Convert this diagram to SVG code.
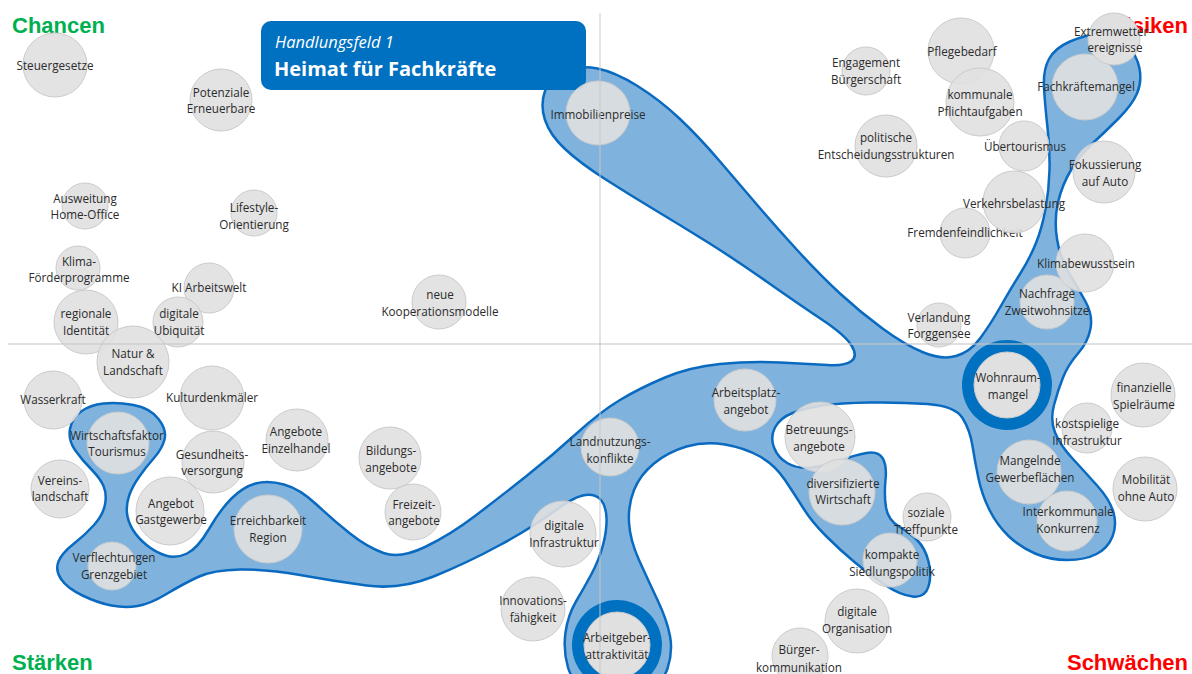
<svg xmlns="http://www.w3.org/2000/svg" width="1192" height="674" viewBox="0 0 1192 674">
<style>
.c{fill:#e0e0e0;fill-opacity:0.9;stroke:#cbcbcb;stroke-width:1}
.solid{fill-opacity:1}
.t{font-family:"Open Sans","Liberation Sans",sans-serif;font-size:11.7px;fill:#2b2b2b;text-anchor:middle}
.ring{fill:#0070c0}
.blob{fill:#7fb3dd;stroke:#0a6ac0;stroke-width:2.5;stroke-linejoin:round}
.axis{stroke:#c8c8c8;stroke-width:1.3;opacity:0.75}
.corner{font-family:"Liberation Sans",Arial,sans-serif;font-size:22px;font-weight:bold}
.g{fill:#00b050}
.r{fill:#ff0000}
</style>
<rect width="1192" height="674" fill="#ffffff"/>
<g id="labels">
<text class="corner g" x="12" y="33">Chancen</text>
<text class="corner r" x="1188" y="33" text-anchor="end">Risiken</text>
<text class="corner g" x="12" y="670">Stärken</text>
<text class="corner r" x="1188" y="670" text-anchor="end">Schwächen</text>
</g>
<g id="cluster">
<path class="blob" d="M103.5,403.5 Q117,402 133.5,405 Q150,408 158.5,419 Q167,430 164.5,439.5 Q162,449 154,458 Q146,467 139,477 Q132,487 129,496 Q126,505 127,513.5 Q128,522 133,530 Q138,538 146.5,545 Q155,552 165.5,555.5 Q176,559 187,553.5 Q198,548 209,529 Q220,510 231.5,498.5 Q243,487 255.5,483.5 Q268,480 284,484.5 Q300,489 316.5,504.5 Q333,520 350,533.5 Q367,547 383.5,553 Q400,559 425,547 Q450,535 475,516 Q500,497 526.5,476 Q553,455 576.5,433.5 Q600,412 620,400 Q640,388 665,377.5 Q690,367 720,364 Q750,361 780,362.5 Q810,364 827.5,365 Q845,366 851.5,361 Q858,356 851.5,345.5 Q845,335 822.5,320 Q800,305 766.5,281.5 Q733,258 706.5,241.5 Q680,225 655,210 Q630,195 605,179 Q580,163 565,149 Q550,135 545,120 Q540,105 545,91 Q550,77 565,71 Q580,65 597.5,68.5 Q615,72 637.5,86 Q660,100 680,119 Q700,138 720,161.5 Q740,185 758.5,206.5 Q777,228 798.5,251.5 Q820,275 840,293.5 Q860,312 882.5,328.5 Q905,345 923.5,352.5 Q942,360 956,356 Q970,352 980,338.5 Q990,325 1000,307.5 Q1010,290 1020,274 Q1030,258 1036,243 Q1042,228 1045.5,209 Q1049,190 1049.5,170 Q1050,150 1047.5,127.5 Q1045,105 1044,87.5 Q1043,70 1049,59 Q1055,48 1070,41.5 Q1085,35 1100,33.5 Q1115,32 1126,43.5 Q1137,55 1139.5,68.5 Q1142,82 1137,93.5 Q1132,105 1118.5,118.5 Q1105,132 1092.5,143.5 Q1080,155 1071,170 Q1062,185 1058,202.5 Q1054,220 1057,239 Q1060,258 1069,273 Q1078,288 1085.5,301.5 Q1093,315 1090.5,328.5 Q1088,342 1078,353.5 Q1068,365 1063,377.5 Q1058,390 1054,405 Q1050,420 1055,432.5 Q1060,445 1072.5,458.5 Q1085,472 1097.5,486 Q1110,500 1113.5,512.5 Q1117,525 1112.5,536.5 Q1108,548 1096.5,554 Q1085,560 1067.5,560 Q1050,560 1035,553.5 Q1020,547 1008.5,536 Q997,525 989.5,510 Q982,495 978.5,478.5 Q975,462 972.5,446 Q970,430 962.5,418 Q955,406 927.5,404 Q900,402 870,402.5 Q840,403 822.5,405.5 Q805,408 792.5,413 Q780,418 775,427.5 Q770,437 774,447.5 Q778,458 788,463.5 Q798,469 811.5,467.5 Q825,466 840,460.5 Q855,455 866.5,453 Q878,451 882.5,458 Q887,465 885.5,480 Q884,495 886,507.5 Q888,520 899,526.5 Q910,533 917.5,540.5 Q925,548 928.5,561.5 Q932,575 928.5,586.5 Q925,598 912.5,596.5 Q900,595 885,585 Q870,575 855,562.5 Q840,550 826,536 Q812,522 803.5,508.5 Q795,495 785,480 Q775,465 760,456.5 Q745,448 725,444.5 Q705,441 686.5,446.5 Q668,452 654,463.5 Q640,475 634,490 Q628,505 629,522.5 Q630,540 639,560 Q648,580 657.5,600 Q667,620 670,636 Q673,652 667.5,668.5 Q662,685 639.5,692.5 Q617,700 595,692.5 Q573,685 568,667.5 Q563,650 565.5,632.5 Q568,615 576,601.5 Q584,588 591.5,574 Q599,560 603,545 Q607,530 606.5,518 Q606,506 601,500 Q596,494 585.5,495 Q575,496 554,511.5 Q533,527 500,545 Q467,563 433.5,576.5 Q400,590 366.5,585.5 Q333,581 300,575 Q267,569 240,569.5 Q213,570 198,577 Q183,584 166.5,594 Q150,604 137.5,606 Q125,608 111.5,605.5 Q98,603 82.5,595.5 Q67,588 61,579 Q55,570 58.5,561.5 Q62,553 73.5,544 Q85,535 94,525 Q103,515 105,504.5 Q107,494 103.5,486 Q100,478 91,469 Q82,460 75,450 Q68,440 70,429 Q72,418 81,411.5 Q90,405 103.5,403.5 Z"/>
</g>
<g id="title">
<rect x="261" y="21" width="325" height="69" rx="10" fill="#0070c0"/>
<text x="275" y="48" font-family="'Open Sans','Liberation Sans',sans-serif" font-size="16.5px" font-style="italic" fill="#ffffff">Handlungsfeld 1</text>
<text x="274" y="76" font-family="'Open Sans','Liberation Sans',sans-serif" font-size="20px" font-weight="bold" fill="#ffffff">Heimat für Fachkräfte</text>
</g>
<g id="nodes">
<g id="n-steuergesetze"><circle class="c" cx="55" cy="65" r="32"/><text class="t" x="55" y="70">Steuergesetze</text></g>
<g id="n-potenziale"><circle class="c" cx="221" cy="100" r="31"/><text class="t" x="221" y="97">Potenziale</text><text class="t" x="221" y="113">Erneuerbare</text></g>
<g id="n-ausweitung"><circle class="c" cx="85" cy="206" r="23"/><text class="t" x="85" y="203">Ausweitung</text><text class="t" x="85" y="219">Home-Office</text></g>
<g id="n-lifestyle"><circle class="c" cx="254" cy="213" r="23"/><text class="t" x="254" y="212">Lifestyle-</text><text class="t" x="254" y="229">Orientierung</text></g>
<g id="n-klima"><circle class="c" cx="78" cy="268" r="22"/><text class="t" x="79" y="266">Klima-</text><text class="t" x="79" y="282">Förderprogramme</text></g>
<g id="n-ki"><circle class="c" cx="209" cy="288" r="25"/><text class="t" x="209" y="292">KI Arbeitswelt</text></g>
<g id="n-regionale"><circle class="c" cx="86" cy="322" r="32"/><text class="t" x="86" y="318">regionale</text><text class="t" x="86" y="335">Identität</text></g>
<g id="n-ubiquitaet"><circle class="c" cx="178" cy="322" r="25"/><text class="t" x="179" y="318">digitale</text><text class="t" x="179" y="335">Ubiquität</text></g>
<g id="n-natur"><circle class="c" cx="133" cy="362" r="36"/><text class="t" x="133" y="358">Natur &amp;</text><text class="t" x="133" y="375">Landschaft</text></g>
<g id="n-wasserkraft"><circle class="c" cx="53" cy="400" r="29"/><text class="t" x="53" y="404">Wasserkraft</text></g>
<g id="n-kultur"><circle class="c" cx="212" cy="398" r="32"/><text class="t" x="212" y="402">Kulturdenkmäler</text></g>
<g id="n-tourismus"><circle class="c" cx="118" cy="443" r="31"/><text class="t" x="117" y="440">Wirtschaftsfaktor</text><text class="t" x="117" y="456">Tourismus</text></g>
<g id="n-gesundheit"><circle class="c" cx="213" cy="462" r="31"/><text class="t" x="212" y="459">Gesundheits-</text><text class="t" x="212" y="475">versorgung</text></g>
<g id="n-einzelhandel"><circle class="c" cx="297" cy="440" r="31"/><text class="t" x="296" y="436">Angebote</text><text class="t" x="296" y="453">Einzelhandel</text></g>
<g id="n-bildung"><circle class="c" cx="390" cy="458" r="31"/><text class="t" x="391" y="455">Bildungs-</text><text class="t" x="391" y="472">angebote</text></g>
<g id="n-freizeit"><circle class="c" cx="413" cy="512" r="28"/><text class="t" x="414" y="509">Freizeit-</text><text class="t" x="414" y="525">angebote</text></g>
<g id="n-vereins"><circle class="c" cx="60" cy="489" r="29"/><text class="t" x="60" y="485">Vereins-</text><text class="t" x="60" y="501">landschaft</text></g>
<g id="n-gastgewerbe"><circle class="c" cx="170" cy="511" r="34"/><text class="t" x="171" y="508">Angebot</text><text class="t" x="171" y="524">Gastgewerbe</text></g>
<g id="n-erreichbarkeit"><circle class="c" cx="268" cy="529" r="34"/><text class="t" x="268" y="525">Erreichbarkeit</text><text class="t" x="268" y="542">Region</text></g>
<g id="n-verflechtungen"><circle class="c" cx="112" cy="566" r="24"/><text class="t" x="114" y="562">Verflechtungen</text><text class="t" x="114" y="579">Grenzgebiet</text></g>
<g id="n-kooperation"><circle class="c" cx="439" cy="302" r="27"/><text class="t" x="440" y="299">neue</text><text class="t" x="440" y="316">Kooperationsmodelle</text></g>
<g id="n-immobilien"><circle class="c" cx="598" cy="113" r="32"/><text class="t" x="598" y="119">Immobilienpreise</text></g>
<g id="n-landnutzung"><circle class="c" cx="610" cy="447" r="29"/><text class="t" x="610" y="446">Landnutzungs-</text><text class="t" x="610" y="463">konflikte</text></g>
<g id="n-arbeitsplatz"><circle class="c" cx="745" cy="400" r="31"/><text class="t" x="746" y="397">Arbeitsplatz-</text><text class="t" x="746" y="414">angebot</text></g>
<g id="n-betreuung"><circle class="c" cx="820" cy="437" r="35"/><text class="t" x="819" y="434">Betreuungs-</text><text class="t" x="819" y="451">angebote</text></g>
<g id="n-diversifiziert"><circle class="c" cx="842" cy="492" r="33"/><text class="t" x="843" y="488">diversifizierte</text><text class="t" x="843" y="504">Wirtschaft</text></g>
<g id="n-soziale"><circle class="c" cx="927" cy="517" r="24"/><text class="t" x="926" y="517">soziale</text><text class="t" x="926" y="534">Treffpunkte</text></g>
<g id="n-kompakt"><circle class="c" cx="890" cy="560" r="27"/><text class="t" x="892" y="559">kompakte</text><text class="t" x="892" y="576">Siedlungspolitik</text></g>
<g id="n-digitale-infra"><circle class="c" cx="563" cy="534" r="33"/><text class="t" x="564" y="530">digitale</text><text class="t" x="564" y="547">Infrastruktur</text></g>
<g id="n-innovation"><circle class="c" cx="533" cy="609" r="32"/><text class="t" x="533" y="605">Innovations-</text><text class="t" x="533" y="622">fähigkeit</text></g>
<g id="n-arbeitgeber"><circle class="ring" cx="617" cy="645" r="45"/><circle class="c solid" cx="617" cy="645" r="33"/><text class="t" x="617" y="642">Arbeitgeber-</text><text class="t" x="617" y="659">attraktivität</text></g>
<g id="n-buerger"><circle class="c" cx="800" cy="656" r="28"/><text class="t" x="799" y="654">Bürger-</text><text class="t" x="799" y="672">kommunikation</text></g>
<g id="n-digitale-org"><circle class="c" cx="857" cy="621" r="32"/><text class="t" x="857" y="616">digitale</text><text class="t" x="857" y="633">Organisation</text></g>
<g id="n-mangelnde"><circle class="c" cx="1029" cy="472" r="32"/><text class="t" x="1030" y="465">Mangelnde</text><text class="t" x="1030" y="482">Gewerbeflächen</text></g>
<g id="n-interkommunal"><circle class="c" cx="1067" cy="521" r="30"/><text class="t" x="1068" y="516">Interkommunale</text><text class="t" x="1068" y="533">Konkurrenz</text></g>
<g id="n-mobilitaet"><circle class="c" cx="1145" cy="489" r="32"/><text class="t" x="1146" y="484">Mobilität</text><text class="t" x="1146" y="501">ohne Auto</text></g>
<g id="n-kostspielig"><circle class="c" cx="1087" cy="428" r="25"/><text class="t" x="1087" y="428">kostspielige</text><text class="t" x="1087" y="445">Infrastruktur</text></g>
<g id="n-finanziell"><circle class="c" cx="1143" cy="395" r="32"/><text class="t" x="1144" y="392">finanzielle</text><text class="t" x="1144" y="409">Spielräume</text></g>
<g id="n-wohnraum"><circle class="ring" cx="1007" cy="385" r="45"/><circle class="c solid" cx="1007" cy="385" r="33"/><text class="t" x="1008" y="382">Wohnraum-</text><text class="t" x="1008" y="399">mangel</text></g>
<g id="n-verlandung"><circle class="c" cx="939" cy="325" r="22"/><text class="t" x="939" y="322">Verlandung</text><text class="t" x="939" y="338">Forggensee</text></g>
<g id="n-nachfrage"><circle class="c" cx="1047" cy="302" r="27"/><text class="t" x="1047" y="298">Nachfrage</text><text class="t" x="1047" y="315">Zweitwohnsitze</text></g>
<g id="n-klimabewusst"><circle class="c" cx="1085" cy="263" r="29"/><text class="t" x="1086" y="268">Klimabewusstsein</text></g>
<g id="n-fremden"><circle class="c" cx="965" cy="233" r="25"/><text class="t" x="965" y="237">Fremdenfeindlichkeit</text></g>
<g id="n-verkehr"><circle class="c" cx="1014" cy="202" r="31"/><text class="t" x="1014" y="208">Verkehrsbelastung</text></g>
<g id="n-fokussierung"><circle class="c" cx="1104" cy="172" r="31"/><text class="t" x="1105" y="169">Fokussierung</text><text class="t" x="1105" y="186">auf Auto</text></g>
<g id="n-uebertourismus"><circle class="c" cx="1024" cy="146" r="25"/><text class="t" x="1025" y="151">Übertourismus</text></g>
<g id="n-politische"><circle class="c" cx="886" cy="146" r="31"/><text class="t" x="886" y="142">politische</text><text class="t" x="886" y="159">Entscheidungsstrukturen</text></g>
<g id="n-pflege"><circle class="c" cx="961" cy="51" r="33"/><text class="t" x="962" y="56">Pflegebedarf</text></g>
<g id="n-kommunale"><circle class="c" cx="980" cy="102" r="34"/><text class="t" x="980" y="99">kommunale</text><text class="t" x="980" y="116">Pflichtaufgaben</text></g>
<g id="n-engagement"><circle class="c" cx="866" cy="71" r="24"/><text class="t" x="866" y="67">Engagement</text><text class="t" x="866" y="84">Bürgerschaft</text></g>
<g id="n-fachkraefte"><circle class="c" cx="1085" cy="87" r="33"/><text class="t" x="1086" y="91">Fachkräftemangel</text></g>
<g id="n-extremwetter"><circle class="c solid" cx="1114" cy="39" r="26"/><text class="t" x="1113" y="36">Extremwetter-</text><text class="t" x="1115" y="52">ereignisse</text></g>
</g>
<g id="axes">
<line class="axis" x1="600" y1="13" x2="600" y2="674"/>
<line class="axis" x1="8" y1="344" x2="1192" y2="344"/>
</g>
</svg>
